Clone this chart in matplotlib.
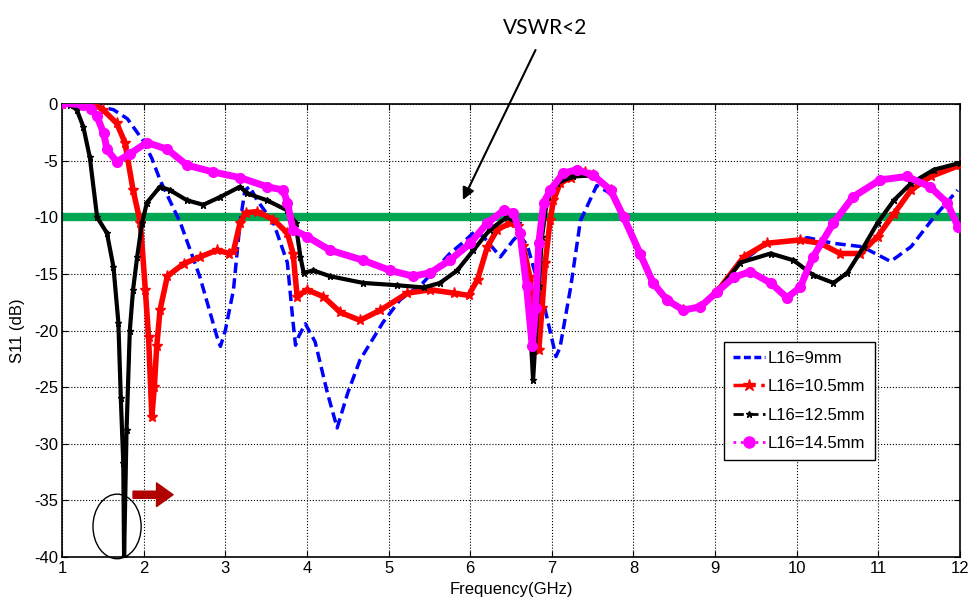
import matplotlib
matplotlib.use("Agg")
import matplotlib.pyplot as plt
from matplotlib.lines import Line2D
from matplotlib.patches import Ellipse

plt.rcParams['font.family'] = ['Liberation Sans', 'DejaVu Sans']
plt.rcParams['axes.unicode_minus'] = False

# S11 curves (frequency in GHz, S11 in dB)
common_x = [7.51, 7.72, 7.88, 8.08, 8.24, 8.41, 8.61, 8.82, 9.02]
common_y = [-6.3, -7.6, -10.0, -13.2, -15.8, -17.3, -18.2, -17.9, -16.6]

f_9 = [1.0, 1.3, 1.5, 1.63, 1.8, 1.99, 2.1, 2.2, 2.45, 2.69, 2.9, 2.94, 3.0,
       3.1, 3.18, 3.24, 3.3, 3.39, 3.59, 3.76, 3.83, 3.86, 3.9, 3.98, 4.1,
       4.25, 4.37, 4.5, 4.65, 4.93, 5.14, 5.42, 5.75, 5.9, 6.05, 6.16, 6.37,
       6.53, 6.6, 6.7, 6.9, 7.05, 7.1, 7.23, 7.35, 7.55, 7.72, 7.88, 8.08,
       8.24, 8.41, 8.61, 8.82, 9.02, 9.31, 9.63, 10.04, 10.13, 10.45, 10.8,
       11.15, 11.4, 11.68, 11.97]
s_9 = [0.0, -0.1, -0.3, -0.5, -1.3, -3.2, -4.8, -6.7, -10.5, -15.3, -20.6,
       -21.4, -20.0, -16.4, -10.5, -7.6, -7.3, -8.5, -10.5, -14.0, -19.3,
       -21.3, -20.5, -19.4, -21.0, -25.5, -28.6, -25.5, -22.6, -19.3, -17.3,
       -15.8, -13.2, -12.3, -11.3, -11.7, -13.5, -12.0, -11.5, -12.5, -17.6,
       -22.3, -21.5, -16.2, -10.3, -7.2, -7.9, -10.1, -13.2, -15.8, -17.3,
       -18.2, -17.9, -16.5, -14.0, -12.3, -12.0, -11.8, -12.3, -12.6, -13.9,
       -12.6, -10.0, -7.6]

f_105 = [1.0, 1.2, 1.38, 1.5, 1.67, 1.77, 1.87, 1.96, 2.02, 2.06, 2.1, 2.13,
         2.16, 2.2, 2.29, 2.49, 2.69, 2.9, 3.05, 3.1, 3.18, 3.25, 3.39, 3.59,
         3.76, 3.83, 3.88, 4.0, 4.2, 4.41, 4.65, 4.9, 5.23, 5.51, 5.8, 5.98,
         6.09, 6.21, 6.33, 6.49, 6.58, 6.65, 6.73, 6.8, 6.84, 6.88, 6.92,
         6.98, 7.02, 7.1, 7.23, 7.4] + common_x + \
        [9.35, 9.63, 10.04, 10.29, 10.53, 10.78, 10.99, 11.19, 11.4, 11.64, 12.0]
s_105 = [0.0, 0.1, 0.0, -0.5, -1.7, -3.4, -7.6, -10.5, -16.4, -20.6, -27.6,
         -25.0, -21.4, -18.2, -15.2, -14.1, -13.5, -12.9, -13.2, -13.0, -10.5,
         -9.6, -9.5, -10.2, -11.4, -13.2, -17.0, -16.4, -17.0, -18.4, -19.1,
         -18.2, -16.7, -16.4, -16.7, -16.9, -15.5, -12.6, -11.1, -10.5, -10.8,
         -12.5, -15.3, -20.0, -21.7, -18.0, -14.0, -10.2, -8.5, -7.0, -6.5,
         -6.0] + common_y + \
        [-13.5, -12.3, -12.0, -12.3, -13.2, -13.2, -11.7, -9.7, -7.6, -6.4, -5.4]

f_125 = [1.0, 1.1, 1.18, 1.26, 1.34, 1.43, 1.55, 1.63, 1.69, 1.72, 1.75, 1.76,
         1.79, 1.83, 1.87, 1.92, 1.98, 2.04, 2.2, 2.32, 2.53, 2.73, 2.94, 3.18,
         3.27, 3.51, 3.76, 3.86, 3.92, 3.96, 4.08, 4.28, 4.69, 5.1, 5.43, 5.63,
         5.84, 6.04, 6.24, 6.45, 6.58, 6.65, 6.73, 6.77, 6.84, 6.88, 6.94,
         7.06, 7.26] + common_x + \
        [9.31, 9.68, 9.96, 10.2, 10.45, 10.62, 10.82, 10.99, 11.19, 11.4, 11.68, 12.0]
s_125 = [0.0, -0.1, -0.5, -2.0, -4.7, -10.0, -11.4, -14.4, -19.3, -26.0, -31.7,
         -40.0, -28.8, -20.0, -16.4, -13.5, -10.5, -8.7, -7.3, -7.6, -8.5,
         -8.9, -8.2, -7.3, -7.9, -8.5, -9.4, -10.5, -13.5, -14.9, -14.7, -15.2,
         -15.8, -16.0, -16.2, -15.8, -14.7, -12.9, -11.1, -10.0, -10.5, -13.2,
         -19.1, -24.4, -16.1, -11.7, -8.5, -7.0, -6.4] + common_y + \
        [-14.0, -13.2, -13.8, -15.1, -15.8, -14.9, -12.6, -10.5, -8.5, -7.0, -5.8, -5.2]

f_145 = [1.0, 1.26, 1.35, 1.43, 1.51, 1.55, 1.67, 1.83, 2.04, 2.29, 2.53, 2.85,
         3.18, 3.51, 3.71, 3.76, 3.83, 4.0, 4.28, 4.69, 5.02, 5.3, 5.51, 5.75,
         6.0, 6.21, 6.41, 6.53, 6.61, 6.69, 6.76, 6.8, 6.84, 6.9, 6.98, 7.14,
         7.31] + common_x + \
        [9.23, 9.43, 9.68, 9.88, 10.04, 10.2, 10.45, 10.69, 11.02, 11.35, 11.63,
         11.84, 11.98]
s_145 = [0.1, -0.1, -0.4, -1.1, -2.6, -4.0, -5.1, -4.4, -3.4, -4.0, -5.4, -6.0,
         -6.5, -7.3, -7.6, -8.7, -11.1, -11.7, -12.9, -13.8, -14.7, -15.2,
         -14.9, -13.8, -12.3, -10.5, -9.4, -9.6, -11.4, -16.1, -21.4, -18.0,
         -12.3, -8.7, -7.6, -6.1, -5.8] + common_y + \
        [-15.3, -14.8, -15.8, -17.1, -16.2, -13.5, -10.5, -8.2, -6.7, -6.4, -7.3,
         -8.7, -10.9]

labels = ['L16=9mm', 'L16=10.5mm', 'L16=12.5mm', 'L16=14.5mm']

fig = plt.figure(figsize=(9.71, 6.14), dpi=100)
ax = fig.add_axes([0.0639, 0.0928, 0.9248, 0.7378])

# VSWR<2 reference line
ax.axhline(-10, color='#00a651', lw=6, zorder=2)

ax.plot(f_9, s_9, color='blue', ls='--', lw=2.5, dashes=(3, 1.5), zorder=3)
ax.plot(f_105, s_105, color='red', lw=4, zorder=4)
ax.plot(f_105, s_105, color='red', ls='-.', lw=2, marker='*', ms=8, zorder=4)
ax.plot(f_125, s_125, color='black', lw=3, zorder=5)
ax.plot(f_125, s_125, color='black', ls='--', lw=2, marker='*', ms=5, zorder=5)
ax.plot(f_145, s_145, color='magenta', lw=5, zorder=6)
ax.plot(f_145, s_145, color='magenta', ls=':', lw=2, marker='o', ms=7, zorder=6)

ax.set_xlim(1, 12)
ax.set_ylim(-40, 0)
ax.set_xticks(range(1, 13))
ax.set_yticks(range(-40, 1, 5))
ax.tick_params(direction='in', top=True, right=True, length=4, labelsize=12, pad=3)
ax.grid(True, ls=':', color='black', lw=0.8)
for sp in ax.spines.values():
    sp.set_linewidth(1.2)

ax.set_xlabel('Frequency(GHz)', fontsize=12, labelpad=4)
ax.set_ylabel('S11 (dB)', fontsize=12, labelpad=6)

handles = [
    Line2D([], [], color='blue', ls='--', lw=2.5, dashes=(2, 1)),
    Line2D([], [], color='red', ls='-.', lw=2.5, marker='*', ms=9),
    Line2D([], [], color='black', ls='--', lw=2, marker='*', ms=5),
    Line2D([], [], color='magenta', ls=':', lw=2, marker='o', ms=8),
]
leg = ax.legend(handles, labels, loc='lower left', bbox_to_anchor=(0.737, 0.214),
                fontsize=12, frameon=True, fancybox=False, framealpha=1,
                edgecolor='black', handlelength=1.9, handletextpad=0.2,
                labelspacing=0.8, borderpad=0.55, borderaxespad=0)
leg.get_frame().set_linewidth(1)
leg.set_zorder(10)

# annotations
ax.text(6.92, 6.7, 'VSWR<2', fontsize=15, family=['Lato', 'DejaVu Sans'],
        ha='center', va='center', clip_on=False)
ax.annotate('', xy=(5.91, -8.47), xytext=(6.8, 4.77), annotation_clip=False,
            arrowprops=dict(arrowstyle='-|>', color='black', lw=1.5,
                            mutation_scale=18, shrinkA=0, shrinkB=0))
ax.add_patch(Ellipse((1.674, -37.3), 0.59, 5.7, fill=False, lw=1,
                     color='black', clip_on=False, zorder=7))
ax.annotate('', xy=(2.36, -34.5), xytext=(1.87, -34.5),
            arrowprops=dict(arrowstyle='simple,head_width=1.0,head_length=0.7,tail_width=0.3',
                            color='#b00000', mutation_scale=17, shrinkA=0, shrinkB=0),
            zorder=8)

fig.savefig('out.png', dpi=100)
